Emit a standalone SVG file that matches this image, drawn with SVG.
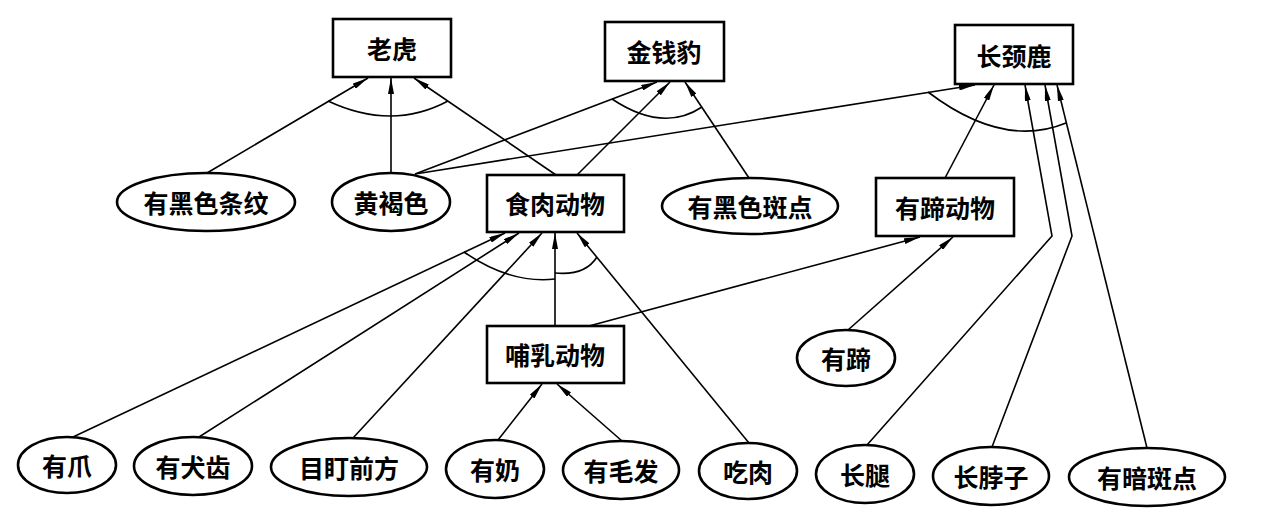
<svg xmlns="http://www.w3.org/2000/svg" width="1286" height="527" viewBox="0 0 1286 527">
<style>
  .box{fill:#fff;stroke:#000;stroke-width:2.6}
  .ell{fill:#fff;stroke:#000;stroke-width:2.6}
  .lbl{font-family:"Noto Sans CJK SC","Noto Sans",sans-serif;font-size:25px;font-weight:700;fill:#000;text-anchor:middle;dominant-baseline:central}
  .edge{fill:none;stroke:#000;stroke-width:1.6;marker-end:url(#arr)}
  .arc{fill:none;stroke:#000;stroke-width:1.6}
</style>
<defs>
  <marker id="arr" viewBox="0 0 16 6" refX="16" refY="3" markerWidth="16" markerHeight="6" markerUnits="userSpaceOnUse" orient="auto">
    <path d="M0,0 L16,3 L0,6 z" fill="#000"/>
  </marker>
</defs>
<rect width="1286" height="527" fill="#fff"/>

<g id="connectors">
  <path class="edge" d="M207,173 L368,78"/>
  <path class="edge" d="M391,173 L391,78"/>
  <path class="edge" d="M556,175 L414,78"/>
  <path class="edge" d="M415,174 L657,82"/>
  <path class="edge" d="M577,175 L670,82"/>
  <path class="edge" d="M749,178 L685,82"/>
  <path class="edge" d="M415,174 L975,85"/>
  <path class="edge" d="M945,178 L994,85"/>
  <path class="edge" d="M867,445 L1052,236 L1025,85"/>
  <path class="edge" d="M992,447 L1072,236 L1045,85"/>
  <path class="edge" d="M1147,448 L1057,85"/>
  <path class="edge" d="M848,330 L953,237"/>
  <path class="edge" d="M589,326 L920,237"/>
  <path class="edge" d="M73,437 L505,233"/>
  <path class="edge" d="M199,437 L519,233"/>
  <path class="edge" d="M353,438 L542,233"/>
  <path class="edge" d="M555,326 L555,233"/>
  <path class="edge" d="M749,443 L577,233"/>
  <path class="edge" d="M498,440 L542,384"/>
  <path class="edge" d="M622,441 L557,384"/>
  <path class="arc" d="M328,101 Q392,131 448,101"/>
  <path class="arc" d="M612,99 Q663,133 702,107"/>
  <path class="arc" d="M928,92 Q1003,149 1066,123"/>
  <path class="arc" d="M464,252 Q510,284 555,279"/>
  <path class="arc" d="M555,273 Q585,276 597,257"/>
</g>

<g id="n-laohu"><rect class="box" x="333" y="19" width="118" height="58"/><text class="lbl" x="392" y="48">老虎</text></g>
<g id="n-jinqianbao"><rect class="box" x="605" y="22" width="119" height="59"/><text class="lbl" x="664" y="51">金钱豹</text></g>
<g id="n-changjinglu"><rect class="box" x="955" y="25" width="118" height="59"/><text class="lbl" x="1014" y="55">长颈鹿</text></g>
<g id="n-shirou"><rect class="box" x="487" y="175" width="137" height="57"/><text class="lbl" x="555" y="203">食肉动物</text></g>
<g id="n-youti-dongwu"><rect class="box" x="876" y="178" width="138" height="58"/><text class="lbl" x="945" y="207">有蹄动物</text></g>
<g id="n-buru"><rect class="box" x="487" y="326" width="137" height="57"/><text class="lbl" x="555" y="354">哺乳动物</text></g>

<g id="n-heisetiaowen"><ellipse class="ell" cx="206" cy="202" rx="89" ry="29"/><text class="lbl" x="206" y="202">有黑色条纹</text></g>
<g id="n-huanghese"><ellipse class="ell" cx="391" cy="202" rx="59" ry="29"/><text class="lbl" x="391" y="202">黄褐色</text></g>
<g id="n-heisebandian"><ellipse class="ell" cx="750" cy="206" rx="88" ry="28"/><text class="lbl" x="750" y="206">有黑色斑点</text></g>
<g id="n-youti"><ellipse class="ell" cx="846" cy="358" rx="49" ry="28"/><text class="lbl" x="846" y="358">有蹄</text></g>
<g id="n-youzhua"><ellipse class="ell" cx="67" cy="465" rx="49" ry="28"/><text class="lbl" x="67" y="465">有爪</text></g>
<g id="n-quanchi"><ellipse class="ell" cx="193" cy="466" rx="59" ry="29"/><text class="lbl" x="193" y="466">有犬齿</text></g>
<g id="n-muding"><ellipse class="ell" cx="349" cy="467" rx="78" ry="29"/><text class="lbl" x="349" y="467">目盯前方</text></g>
<g id="n-younai"><ellipse class="ell" cx="495" cy="469" rx="49" ry="29"/><text class="lbl" x="495" y="469">有奶</text></g>
<g id="n-maofa"><ellipse class="ell" cx="621" cy="470" rx="58" ry="29"/><text class="lbl" x="621" y="470">有毛发</text></g>
<g id="n-chirou"><ellipse class="ell" cx="748" cy="471" rx="49" ry="28"/><text class="lbl" x="748" y="471">吃肉</text></g>
<g id="n-changtui"><ellipse class="ell" cx="865" cy="474" rx="49" ry="29"/><text class="lbl" x="865" y="474">长腿</text></g>
<g id="n-changbozi"><ellipse class="ell" cx="991" cy="476" rx="58" ry="29"/><text class="lbl" x="991" y="476">长脖子</text></g>
<g id="n-anbandian"><ellipse class="ell" cx="1147" cy="477" rx="78" ry="29"/><text class="lbl" x="1147" y="477">有暗斑点</text></g>
</svg>
